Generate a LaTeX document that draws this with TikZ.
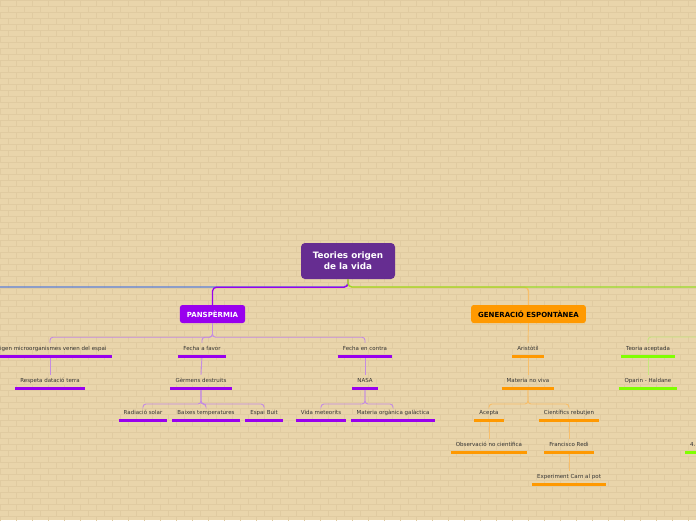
\documentclass[tikz,border=0pt]{standalone}
\usepackage{fontspec}
\setmainfont{DejaVu Sans}
\usetikzlibrary{calc}
\definecolor{bg}{HTML}{E9D5AB}
\definecolor{brick}{HTML}{E0CBA1}
\definecolor{rootc}{HTML}{662D91}
\definecolor{bluec}{HTML}{5B80D8}
\definecolor{violetc}{HTML}{9900EE}
\definecolor{lav}{HTML}{C48BE2}
\definecolor{orangec}{HTML}{FF9900}
\definecolor{lorange}{HTML}{F7BE6A}
\definecolor{greenc}{HTML}{9ADB28}
\definecolor{lgreen}{HTML}{C6E67E}
\definecolor{bgreen}{HTML}{80FF00}
\definecolor{txt}{HTML}{333333}
\begin{document}
\begin{tikzpicture}[x=1pt,y=-1pt,
  leaf/.style={font=\fontsize{5.5}{6}\selectfont, text=txt, inner xsep=5pt,
    inner ysep=3.6pt, text height=3.8pt, text depth=1.2pt, anchor=south},
  mainbox/.style={rounded corners=2.5pt, font=\fontsize{7}{8}\selectfont\bfseries,
    inner xsep=7pt, minimum height=18pt},
  rootbox/.style={fill=rootc, rounded corners=4pt, text=white, align=center,
    font=\fontsize{8.8}{11}\selectfont\bfseries, minimum width=94pt, minimum height=36pt},
  trunk/.style={line width=1.3pt, rounded corners=4pt},
  conn/.style={line width=0.9pt, rounded corners=3pt},
  ul/.style={line width=2.8pt}
]
\useasboundingbox (0,0) rectangle (696,520);
\clip (0,0) rectangle (696,520);
% background bricks
\fill[bg] (0,0) rectangle (696,520);
\draw[brick, line width=0.45pt]
  \foreach \r in {0,...,87} {
    (0,\r*6) -- (696,\r*6)
    \foreach \k in {0,...,44} {
      ({\k*16+mod(\r,2)*8},\r*6) -- ({\k*16+mod(\r,2)*8},\r*6+6)
    }
  };

% level baselines (south of leaf nodes)
\def\LA{355.4}\def\LB{387.4}\def\LC{419.4}\def\LD{451.4}\def\LE{483.4}

% nodes
\node[rootbox] (root) at (348,261) {Teories origen\\de la vida};
\node[mainbox, fill=violetc, text=white] (pans) at (212.5,314) {PANSPÈRMIA};
\node[mainbox, fill=orangec, text=black] (gen) at (528.5,314) {GENERACIÓ ESPONTÀNEA};
\coordinate (offleft) at (-5,287);
\coordinate (offright) at (705,287);
\coordinate (offright2) at (705,337);

\node[leaf] (o1) at (50,\LA) {Origen microorganismes venen del espai};
\node[leaf] (o2) at (202,\LA) {Fecha a favor};
\node[leaf] (o3) at (365,\LA) {Fecha en contra};
\node[leaf] (o4) at (50,\LB) {Respeta datació terra};
\node[leaf] (o5) at (201,\LB) {Gèrmens destruits};
\node[leaf] (o6) at (365,\LB) {NASA};
\node[leaf] (o7) at (143,\LC) {Radiació solar};
\node[leaf] (o8) at (206,\LC) {Baixes temperatures};
\node[leaf] (o9) at (264,\LC) {Espai Buit};
\node[leaf] (o10) at (321,\LC) {Vida meteorits};
\node[leaf] (o11) at (393,\LC) {Materia orgànica galàctica};

\node[leaf] (g1) at (528,\LA) {Aristòtil};
\node[leaf] (g2) at (528,\LB) {Materia no viva};
\node[leaf] (g3) at (489,\LC) {Acepta};
\node[leaf] (g4) at (569,\LC) {Científics rebutjen};
\node[leaf] (g5) at (489,\LD) {Observació no científica};
\node[leaf] (g6) at (569,\LD) {Francisco Redi};
\node[leaf] (g7) at (569,\LE) {Experiment Carn al pot};

\node[leaf] (t1) at (648,\LA) {Teoria aceptada};
\node[leaf] (t2) at (648,\LB) {Oparin - Haldane};
\node[leaf, anchor=south west] (t3) at (685,\LD) {4.};

% trunk connectors from root
\draw[trunk, bluec] (root.south) |- (offleft);
\draw[trunk, violetc] (root.south) -- ++(0,8) -| (pans.north);
\draw[trunk, lorange] (root.south) -- ++(0,8) -| (gen.north);
\draw[trunk, greenc] (root.south) |- (offright);

% panspermia connectors
\foreach \c in {o1,o2,o3}
  \draw[conn, lav] (pans.south) -- ++(0,14) -| (\c.north);
\draw[conn, lav] (o1.south) -- (o4.north);
\draw[conn, lav] (o2.south) -- (o5.north);
\draw[conn, lav] (o3.south) -- (o6.north);
\foreach \c in {o7,o8,o9}
  \draw[conn, lav] (o5.south) -- ++(0,16.6) -| (\c.north);
\foreach \c in {o10,o11}
  \draw[conn, lav] (o6.south) -- ++(0,16.6) -| (\c.north);

% generacio connectors
\draw[conn, lorange] (gen.south) -- (g1.north);
\draw[conn, lorange] (g1.south) -- (g2.north);
\foreach \c in {g3,g4}
  \draw[conn, lorange] (g2.south) -- ++(0,16.6) -| (\c.north);
\draw[conn, lorange] (g3.south) -- (g5.north);
\draw[conn, lorange] (g4.south) -- (g6.north);
\draw[conn, lorange] (g6.south) -- (g7.north);

% green connectors
\draw[conn, lgreen] (t1.north) |- (offright2);
\draw[conn, lgreen] (t1.south) -- (t2.north);

% underlines
\foreach \n in {o1,o2,o3,o4,o5,o6,o7,o8,o9,o10,o11}
  \draw[ul, violetc] ($(\n.south west)+(0,1.4)$) -- ($(\n.south east)+(0,1.4)$);
\foreach \n in {g1,g2,g3,g4,g5,g6,g7}
  \draw[ul, orangec] ($(\n.south west)+(0,1.4)$) -- ($(\n.south east)+(0,1.4)$);
\foreach \n in {t1,t2,t3}
  \draw[ul, bgreen] ($(\n.south west)+(0,1.4)$) -- ($(\n.south east)+(0,1.4)$);
\end{tikzpicture}
\end{document}
